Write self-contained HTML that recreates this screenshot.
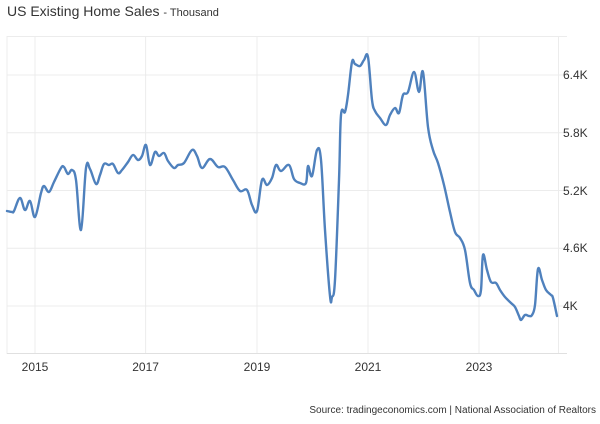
<!DOCTYPE html>
<html><head><meta charset="utf-8"><style>
body{margin:0;background:#fff;width:600px;height:419px;overflow:hidden;font-family:"Liberation Sans",sans-serif}
</style></head><body>
<svg width="600" height="419" viewBox="0 0 600 419" xmlns="http://www.w3.org/2000/svg" font-family="Liberation Sans, sans-serif">
<text x="7" y="16" font-size="14" fill="#333">US Existing Home Sales <tspan font-size="11">- Thousand</tspan></text>
<g stroke="#ececec" stroke-width="1">
<line x1="7" y1="36.5" x2="567" y2="36.5"/>
<line x1="7" y1="75" x2="567" y2="75"/>
<line x1="7" y1="132.7" x2="567" y2="132.7"/>
<line x1="7" y1="190.5" x2="567" y2="190.5"/>
<line x1="7" y1="248.2" x2="567" y2="248.2"/>
<line x1="7" y1="306" x2="567" y2="306"/>
<line x1="7" y1="36" x2="7" y2="354"/>
<line x1="35" y1="36" x2="35" y2="354"/>
<line x1="145.6" y1="36" x2="145.6" y2="354"/>
<line x1="257" y1="36" x2="257" y2="354"/>
<line x1="368" y1="36" x2="368" y2="354"/>
<line x1="479" y1="36" x2="479" y2="354"/>
<line x1="558.5" y1="36" x2="558.5" y2="354"/>
</g>
<line x1="7" y1="353.5" x2="567" y2="353.5" stroke="#e0e0e0"/>
<g font-size="12" fill="#333">
<text x="563" y="79">6.4K</text>
<text x="563" y="137">5.8K</text>
<text x="563" y="195">5.2K</text>
<text x="563" y="252">4.6K</text>
<text x="563" y="310">4K</text>
</g>
<g font-size="12" fill="#333" text-anchor="middle">
<text x="35" y="371">2015</text>
<text x="145.6" y="371">2017</text>
<text x="257" y="371">2019</text>
<text x="368" y="371">2021</text>
<text x="479" y="371">2023</text>
</g>
<text x="596" y="413" font-size="10" fill="#333" text-anchor="end">Source: tradingeconomics.com | National Association of Realtors</text>
<path id="ln" fill="none" stroke="#4f81bd" stroke-width="2.4" stroke-linejoin="round" stroke-linecap="round" d=""/>
</svg>
<script>
var s="7,211 12,212 14,211 20,198 25,210 30,201 35,217 41,193 44,186 49,192 54,182 61,168 64,167 68,174 72,170 76,180 81,230 86,168 90,169 96,184 100,175 104,164 109,165 113,164 118,173 122,170 128,162 133,155 138,160 142,156 146,145 150,165 155,152 159,156 164,153 168,161 174,168 178,165 184,163 192,150 197,156 202,168 210,159 218,167 225,167 233,180 240,191 247,190 252,205 257,211 262,180 267,185 272,178 276,165 281,171 289,165 294,179 300,183 306,183 308,166 312,176 317,150 321,160 325,230 330,296 332,297 335,280 339,180 341,115 345,112 348,95 352,62 355,64 360,66 364,60 368,57 372,100 375,111 380,118 386,125 390,115 395,108 399,113 403,95 408,92 414,72 419,92 423,72 428,127 433,150 438,163 444,185 450,212 455,232 460,238 465,250 470,283 474,290 478,296 481,290 483,255 487,270 491,282 496,283 500,290 505,297 511,303 515,307 519,316 521,320 525,315 529,316 532,315 535,305 538,269 542,280 546,290 551,295 553,298 557,316";
var p=s.split(" ").map(function(a){return a.split(",").map(Number)});
var d="M"+p[0][0]+","+p[0][1];
for(var i=0;i<p.length-1;i++){var p0=p[i-1]||p[i],p1=p[i],p2=p[i+1],p3=p[i+2]||p2,t=0.18;
d+=" C"+(p1[0]+(p2[0]-p0[0])*t)+","+(p1[1]+(p2[1]-p0[1])*t)+" "+(p2[0]-(p3[0]-p1[0])*t)+","+(p2[1]-(p3[1]-p1[1])*t)+" "+p2[0]+","+p2[1];}
document.getElementById("ln").setAttribute("d",d);
</script>
</body></html>
